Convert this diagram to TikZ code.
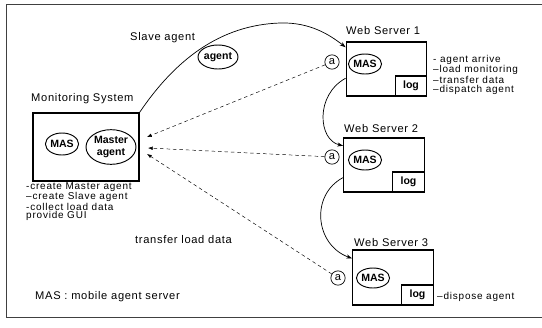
\documentclass[tikz,border=0pt]{standalone}
\usepackage{fontspec}
\setmainfont{Liberation Sans}
\usetikzlibrary{shapes.geometric,arrows.meta,positioning}

\begin{document}
\begin{tikzpicture}[x=0.03cm,y=-0.03cm,
    box/.style={draw,line width=1pt,minimum width=2.42cm,minimum height=1.62cm,inner sep=0pt},
    logbox/.style={draw,line width=1pt,minimum width=0.95cm,minimum height=0.6cm,inner sep=0pt,font=\fontsize{9}{10}\selectfont\bfseries},
    mas/.style={draw,thick,ellipse,minimum width=0.9cm,minimum height=0.6cm,inner sep=0pt,font=\fontsize{9}{9.5}\selectfont\bfseries},
    port/.style={draw,semithick,circle,minimum size=0.43cm,inner sep=0pt,font=\fontsize{9.5}{10}\selectfont},
    lbl/.style={inner sep=0pt,anchor=west,font=\fontsize{9.5}{10}\selectfont\addfontfeatures{LetterSpace=6}},
    notes/.style={inner sep=0pt,anchor=north west,align=left,font=\fontsize{8.5}{7.4}\selectfont\addfontfeatures{LetterSpace=8}},
    move/.style={-{Stealth[length=5pt,width=3.5pt]},semithick},
    report/.style={-{Latex[length=4pt,width=3pt]},dash pattern=on 3pt off 2.5pt}
]
\useasboundingbox (0,0) rectangle (542,327);
\draw[black!75,line width=0.5pt] (542,4) -- (6,4) -- (6,317) -- (542,317);

% monitoring system
\node[box,minimum width=3.18cm,minimum height=2.04cm] (ms) at (86,147) {};
\node[lbl] (mstitle) at (31,99) {Monitoring System};
\node[mas,minimum width=0.96cm,minimum height=0.66cm] (msmas) at (62,144) {MAS};
\node[mas,minimum width=1.5cm,minimum height=1.04cm,align=center] (master) at (111,147) {Master\\agent};
\node[notes] (msnotes) at (26,182) {-create Master agent\\–create Slave agent\\-collect load data\\provide GUI};

% web servers
\node[box] (ws1) at (386.5,69) {};
\node[box] (ws2) at (384,165) {};
\node[box,minimum height=1.65cm] (ws3) at (393,277.5) {};
\node[lbl] (ws1title) at (346,31) {Web Server 1};
\node[lbl] (ws2title) at (344,129) {Web Server 2};
\node[lbl] (ws3title) at (354,243) {Web Server 3};
\node[logbox,anchor=south east] (log1) at (ws1.south east) {log};
\node[logbox,anchor=south east] (log2) at (ws2.south east) {log};
\node[logbox,anchor=south east] (log3) at (ws3.south east) {log};
\node[mas] (mas1) at (365,64) {MAS};
\node[mas] (mas2) at (365,160) {MAS};
\node[mas] (mas3) at (373,278) {MAS};
\node[port] (a1) at (332,62) {a};
\node[port] (a2) at (332,157) {a};
\node[port] (a3) at (338,278) {a};
\node[notes] (ws1notes) at (433,55) {- agent arrive\\–load monitoring\\–transfer data\\–dispatch agent};
\node[notes,anchor=west] (ws3notes) at (437,297) {–dispose agent};

% the travelling agent
\node[lbl] (slavetitle) at (130,38) {Slave agent};
\node[mas,minimum width=1.2cm,minimum height=0.72cm] (agent) at (218,57) {agent};
\draw[move] (ms.north east) .. controls (175,60) and (220,25) .. (280,23)
    .. controls (310,22) and (330,35) .. ([yshift=-5pt]ws1.north west);
\draw[move] ([yshift=0.55cm]ws1.south west) .. controls (315,95) and (318,140) .. ([yshift=-0.25cm]ws2.north west);
\draw[move] ([yshift=0.45cm]ws2.south west) .. controls (310,195) and (315,245) .. ([yshift=-0.27cm]ws3.north west);

% load data back to the master
\coordinate (in1) at (147,137);
\coordinate (in2) at (148,148);
\coordinate (in3) at (147,154);
\draw[report] (a1) -- (in1);
\draw[report] (a2) -- (in2);
\draw[report] (a3) -- (in3);
\node[lbl] (transfer) at (135,240) {transfer load data};

\node[lbl] (legend) at (35,297) {MAS : mobile agent server};
\end{tikzpicture}
\end{document}
